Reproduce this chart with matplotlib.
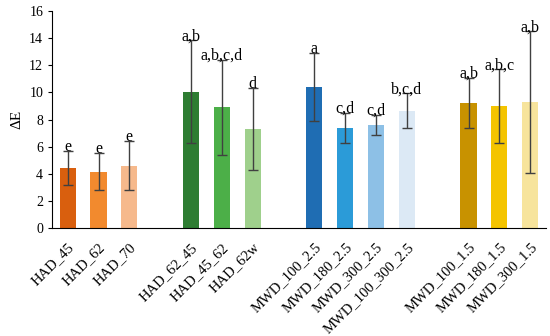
import matplotlib.pyplot as plt
import numpy as np

plt.rcParams['font.family'] = ['Liberation Serif', 'DejaVu Serif']

# bar slots, gaps between groups left empty
labels = ["HAD_45", "HAD_62", "HAD_70",
          "HAD_62_45", "HAD_45_62", "HAD_62w",
          "MWD_100_2.5", "MWD_180_2.5", "MWD_300_2.5", "MWD_100_300_2.5",
          "MWD_100_1.5", "MWD_180_1.5", "MWD_300_1.5"]
slots = [0, 1, 2, 4, 5, 6, 8, 9, 10, 11, 13, 14, 15]
means = [4.4, 4.15, 4.6, 10.05, 8.9, 7.3, 10.4, 7.4, 7.6, 8.65, 9.25, 9.0, 9.3]
errs = [1.25, 1.37, 1.8, 3.8, 3.5, 3.05, 2.5, 1.1, 0.77, 1.3, 1.85, 2.7, 5.2]
letters = ["e", "e", "e", "a,b", "a,b,c,d", "d", "a", "c,d", "c,d", "b,c,d",
           "a,b", "a,b,c", "a,b"]
colors = ["#d95f0e", "#f28a2e", "#f6b98c",
          "#2e7d32", "#4caf48", "#9fd08c",
          "#1f6db3", "#2b9bd8", "#8dc0e6", "#dce9f5",
          "#c89200", "#f4c400", "#f7e49c"]

fig, ax = plt.subplots(figsize=(5.5, 3.36), dpi=100)
fig.subplots_adjust(left=0.095, right=0.992, top=0.967, bottom=0.321)

ax.bar(slots, means, width=0.52, color=colors, yerr=errs,
       error_kw=dict(ecolor="#404040", elinewidth=1, capsize=3.5, capthick=1))

for x, m, e, t in zip(slots, means, errs, letters):
    ax.text(x, m + e, t, ha="center", va="baseline", fontsize=11.5)

ax.set_xlim(-0.5, 15.5)
ax.set_ylim(0, 16)
ax.set_yticks(range(0, 17, 2))
ax.set_xticks(slots)
ax.set_xticklabels(labels, rotation=45, ha="right", rotation_mode="anchor",
                   fontsize=10.5)
ax.tick_params(axis="x", length=0, pad=9)
ax.tick_params(axis="y", labelsize=10, length=3)
ax.set_ylabel("ΔE", fontsize=11)
ax.spines["top"].set_visible(False)
ax.spines["right"].set_visible(False)

fig.savefig("out.png")
